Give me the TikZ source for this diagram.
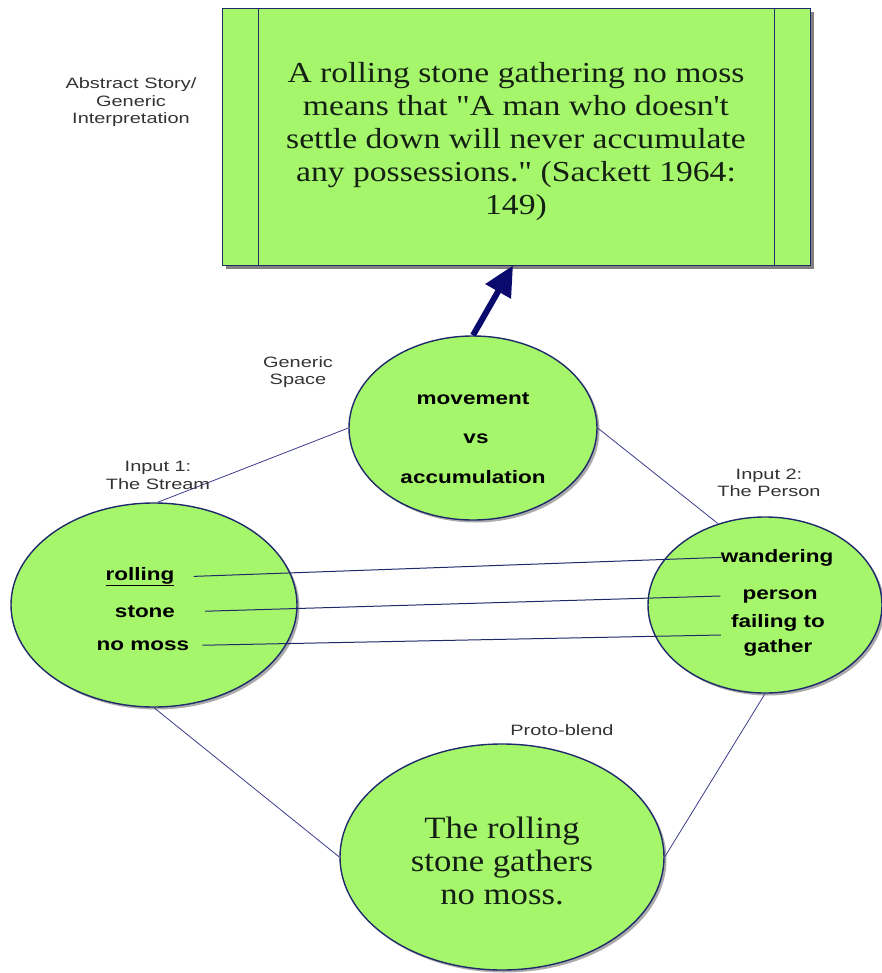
\documentclass[tikz,border=0pt]{standalone}
\usepackage{fontspec}
\setmainfont{Liberation Serif}
\newfontfamily\labfont[FakeStretch=1.33]{Liberation Sans}
\newfontfamily\bsfont[FakeStretch=1.25]{Liberation Sans}
\newfontfamily\boxfont[FakeStretch=1.16]{Liberation Serif}
\newfontfamily\blendfont[FakeStretch=1.12]{Liberation Serif}
\usetikzlibrary{shapes.geometric,shadows,arrows.meta,calc}
\definecolor{fillgreen}{HTML}{A6F66B}
\definecolor{navy}{HTML}{1F2A6B}
\definecolor{conn}{HTML}{3C3C8C}
\definecolor{arrowblue}{HTML}{0A0A6E}
\definecolor{labgray}{HTML}{333333}
\definecolor{inktext}{HTML}{142014}
\begin{document}
\begin{tikzpicture}[x=1pt,y=-1pt,
  space/.style={ellipse, draw=navy, line width=1.4pt, fill=fillgreen, inner sep=0pt,
    drop shadow={shadow xshift=2.5pt, shadow yshift=-2.5pt, fill=black!55, opacity=0.6}},
  lab/.style={font=\labfont\fontsize{15}{17.5}\selectfont, text=labgray, align=center, inner sep=0pt},
  term/.style={font=\bsfont\bfseries\fontsize{18}{25}\selectfont, text=black, inner sep=0pt, anchor=base},
  conline/.style={draw=conn, line width=0.8pt},
  mapline/.style={draw=navy, line width=1pt}
]
\useasboundingbox (0,0) rectangle (882,973);

% top box
\node[draw=navy, line width=0.8pt, fill=fillgreen, minimum width=588pt, minimum height=257pt, inner sep=0pt,
  drop shadow={shadow xshift=4pt, shadow yshift=-4pt, fill=black!70, opacity=0.7}] (box) at (516,136.5) {};
\draw[navy, line width=0.8pt] ([xshift=37pt]box.north west) -- ([xshift=37pt]box.south west);
\draw[navy, line width=0.8pt] ([xshift=-36pt]box.north east) -- ([xshift=-36pt]box.south east);
\node[font=\boxfont\fontsize{29}{33}\selectfont, text=inktext, align=center, inner sep=0pt] (boxtext) at (516,142)
  {A rolling stone gathering no moss\\means that "A man who doesn't\\settle down will never accumulate\\any possessions." (Sackett 1964:\\149)};

% spaces
\node[space, minimum width=248pt, minimum height=184pt] (gen) at (473,428) {};
\node[space, minimum width=286pt, minimum height=204pt] (in1) at (154,605) {};
\node[space, minimum width=234pt, minimum height=176pt] (in2) at (765,605) {};
\node[space, minimum width=324pt, minimum height=226pt] (blend) at (502,857) {};

% connectors
\draw[conline] (gen.west) -- (in1.88);
\draw[conline] (gen.east) -- (in2.120);
\draw[conline] (in1.south) -- (blend.west);
\draw[conline] (in2.south) -- (blend.east);

% arrow
\draw[arrowblue, line width=6pt, -{Triangle[length=30pt,width=28pt]}] (gen.north) -- ([xshift=-3pt]box.south);

% labels
\node[lab] (lababs) at (131,102.5) {Abstract Story/\\Generic\\Interpretation};
\node[lab] (labgen) at (298,372) {Generic\\Space};
\node[lab] (labin1) at (158,475.5) {Input 1:\\The Stream};
\node[lab] (labin2) at (769,483) {Input 2:\\The Person};
\node[lab] (labblend) at (562,730) {Proto-blend};

% generic space terms
\node[term] (movement) at (473,404) {movement};
\node[term] (vs) at (476,443) {vs};
\node[term] (accum) at (473,483) {accumulation};

% input 1 terms
\node[term] (rolling) at (140,580) {\underline{rolling}};
\node[term] (stone) at (145,617) {stone};
\node[term] (nomoss) at (143,650) {no moss};

% input 2 terms
\node[term] (wandering) at (777,562) {wandering};
\node[term] (person) at (780,599) {person};
\node[term, anchor=center, align=center] (failing) at (778,635) {failing to\\gather};

% mapping lines
\draw[mapline] ([xshift=19pt]rolling.east) -- ([xshift=1pt]wandering.west);
\draw[mapline] ([xshift=30pt]stone.east) -- ([xshift=-22pt]person.west);
\draw[mapline] ([xshift=13pt]nomoss.east) -- ([xshift=-10pt]failing.west);

% blend text
\node[font=\blendfont\fontsize{31}{33}\selectfont, text=inktext, align=center, inner sep=0pt] (blendtext) at (502,861)
  {The rolling\\stone gathers\\no moss.};
\end{tikzpicture}
\end{document}
